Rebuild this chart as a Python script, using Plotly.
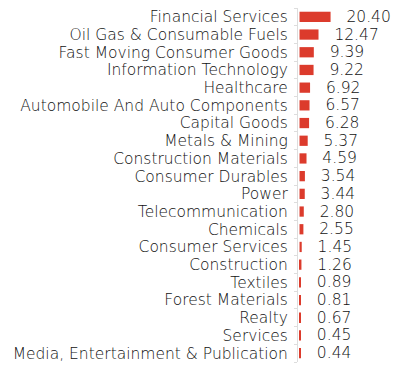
import plotly.graph_objects as go

categories = ["Financial Services", "Oil Gas & Consumable Fuels", "Fast Moving Consumer Goods",
              "Information Technology", "Healthcare", "Automobile And Auto Components",
              "Capital Goods", "Metals & Mining", "Construction Materials", "Consumer Durables",
              "Power", "Telecommunication", "Chemicals", "Consumer Services", "Construction",
              "Textiles", "Forest Materials", "Realty", "Services",
              "Media, Entertainment & Publication"]
values = [20.40, 12.47, 9.39, 9.22, 6.92, 6.57, 6.28, 5.37, 4.59, 3.54,
          3.44, 2.80, 2.55, 1.45, 1.26, 0.89, 0.81, 0.67, 0.45, 0.44]

FONT = "DejaVu Sans"
FS = 15.5
WT = 200
COL = "#111111"

fig = go.Figure(go.Bar(
    x=values, y=categories, orientation="h",
    marker=dict(color="#dc3b2c", line=dict(width=0)),
    texttemplate="\u2002\u2004%{x:.2f}", textposition="outside",
    constraintext="none",
    textfont=dict(family=FONT, size=FS, color=COL, weight=WT),
    cliponaxis=False,
))

fig.update_layout(
    width=392, height=363,
    margin=dict(l=290, r=0, t=0, b=9, autoexpand=False),
    paper_bgcolor="white", plot_bgcolor="white",
    bargap=0.42, showlegend=False,
    font=dict(family=FONT, size=FS, color=COL, weight=WT),
    xaxis=dict(range=[-1, 66], visible=False, fixedrange=True),
    yaxis=dict(autorange="reversed", showline=True, linecolor="#dddddd", linewidth=1,
               tickmode="array", tickvals=categories, ticktext=categories,
               ticks="outside", ticklen=3, tickcolor="#dddddd", tickson="boundaries",
               showgrid=False, automargin=False, ticklabelstandoff=6,
               tickfont=dict(family=FONT, size=FS, color=COL, weight=WT)),
)

fig.write_html("out.html")
